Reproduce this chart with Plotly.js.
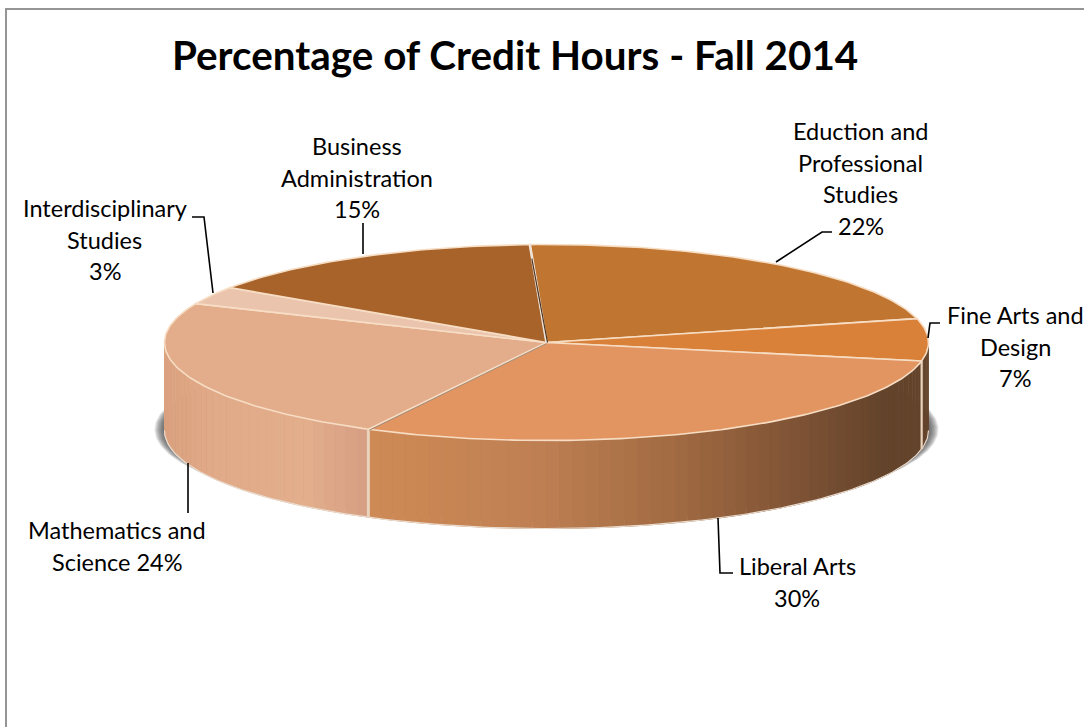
<!DOCTYPE html>
<html>
<head>
<meta charset="utf-8">
<script src="https://cdn.plot.ly/plotly-3.0.1.min.js"></script>
<style>html,body{margin:0;padding:0;background:#fff}#chart{width:1084px;height:727px}</style>
</head>
<body>
<div id="chart"></div>
<script>
// --- data ---
var categories = ["Eduction and Professional Studies","Fine Arts and Design","Liberal Arts","Mathematics and Science","Interdisciplinary Studies","Business Administration"];
var percentages = [22, 7, 30, 24, 3, 15];
var chartTitle = "Percentage of Credit Hours - Fall 2014";
var labelLines = [
  ["Eduction and","Professional","Studies","22%"],
  ["Fine Arts and","Design","7%"],
  ["Liberal Arts","30%"],
  ["Mathematics and","Science 24%"],
  ["Interdisciplinary","Studies","3%"],
  ["Business","Administration","15%"]
];

// --- styling / geometry ---
var topColors = ["#C07530","#DA8139","#E29560","#E3AC8A","#EBC4AE","#A8632A"];
var rimColor = "#F6DDC4";
var labelCenters = [[860.5,131],[1015,315],[797,566],[117,530],[104.5,208],[356.5,146]];
var lineGap = 31.6;
var leaders = [
  [[832,232],[822,232],[776,262]],
  [[940,323],[930,323],[928,338]],
  [[718,518],[720,573],[733,573]],
  [[188,463],[188,513]],
  [[192,217],[204,217],[213,293]],
  [[363,223],[363,254]]
];
var cx = 546.5, cy = 342.5, rx = 382, ry = 98, depth = 88, startDeg = -2.5;
var sideStops = {
  3:[[0,"#DBA17F"],[0.25,"#E1AA88"],[0.7,"#E3AE8C"],[1,"#D69E82"]],
  2:[[0,"#CF8A55"],[0.3,"#BF8053"],[0.55,"#A26B42"],[0.8,"#7A5033"],[0.93,"#64432B"],[1,"#64432B"]],
  1:[[0,"#64432B"],[1,"#64432B"]]
};

function px(deg){ return cx + rx*Math.sin(deg*Math.PI/180); }
function py(deg){ return cy - ry*Math.cos(deg*Math.PI/180); }
function arc(a,b){ var xs=[],ys=[],n=Math.max(2,Math.ceil(Math.abs(b-a)));
  for(var i=0;i<=n;i++){var d=a+(b-a)*i/n; xs.push(px(d)); ys.push(py(d));} return [xs,ys]; }
function hex(c){return [parseInt(c.substr(1,2),16),parseInt(c.substr(3,2),16),parseInt(c.substr(5,2),16)];}
function stopColor(stops,f){
  for(var i=1;i<stops.length;i++){ if(f<=stops[i][0]){
    var u=(f-stops[i-1][0])/((stops[i][0]-stops[i-1][0])||1),a=hex(stops[i-1][1]),b=hex(stops[i][1]);
    return "rgb("+[0,1,2].map(function(k){return Math.round(a[k]+(b[k]-a[k])*u)}).join(",")+")"; } }
  return stops[stops.length-1][1];
}

var total = percentages.reduce(function(s,v){return s+v},0);
var bounds=[startDeg];
percentages.forEach(function(v,i){ bounds.push(bounds[i]+v/total*360); });

var traces=[];
// soft shadow under the disc
[10,9,8,7,6,5,4,3,2,1].forEach(function(g){
  var n=arc(0,360);
  traces.push({type:"scatter",mode:"lines",fill:"toself",hoverinfo:"skip",showlegend:false,
    x:n[0].map(function(x){return cx+(x-cx)*(rx+g)/rx}),
    y:n[1].map(function(y){return cy+depth-1+(y-cy)*0.94}),
    line:{width:0},fillcolor:"rgba(70,70,70,0.13)"});
});
// side wall of the disc
percentages.forEach(function(v,i){
  var stops=sideStops[i]; if(!stops) return;
  var a=Math.max(bounds[i],90), b=Math.min(bounds[i+1],270);
  var step=(b-a)/Math.max(1,Math.ceil((b-a)/2));
  var xmin=Math.min(px(a),px(b)), xmax=Math.max(px(a),px(b));
  for(var d=a;d<b-1e-6;d+=step){
    var r=arc(d,d+step), fx=(px(d)+px(d+step))/2;
    var f=(fx-xmin)/(xmax-xmin);
    var col=stopColor(stops,f);
    traces.push({type:"scatter",mode:"lines",fill:"toself",hoverinfo:"skip",showlegend:false,
      x:r[0].concat(r[0].slice().reverse()),
      y:r[1].concat(r[1].slice().reverse().map(function(y){return y+depth})),
      line:{width:1,color:col},fillcolor:col});
  }
});
// pale edges of the wall
var bot=arc(90,270);
traces.push({type:"scatter",mode:"lines",hoverinfo:"skip",showlegend:false,
  x:bot[0],y:bot[1].map(function(y){return y+depth}),line:{width:1.2,color:"#E9DCCF"}});
[2,3].forEach(function(i){
  var d=bounds[i];
  traces.push({type:"scatter",mode:"lines",hoverinfo:"skip",showlegend:false,
    x:[px(d),px(d)],y:[py(d),py(d)+depth],line:{width:i==3?3:2.2,color:"#EAD3BD"}});
});
// top wedges
percentages.forEach(function(v,i){
  var r=arc(bounds[i],bounds[i+1]);
  traces.push({type:"scatter",mode:"lines",fill:"toself",name:categories[i],
    x:[cx].concat(r[0],[cx]),y:[cy].concat(r[1],[cy]),
    line:{width:1.6,color:rimColor},fillcolor:topColors[i],showlegend:false,
    text:categories[i]+": "+v+"%",hoverinfo:"text"});
});
// seams between wedges
traces.push({type:"scatter",mode:"lines",hoverinfo:"skip",showlegend:false,
  x:[cx,px(bounds[0])],y:[cy,py(bounds[0])],line:{width:2.6,color:"#EFE3D8"}});
traces.push({type:"scatter",mode:"lines",hoverinfo:"skip",showlegend:false,
  x:[cx+1,px(bounds[0])+2],y:[cy,py(bounds[0])+14],line:{width:1.2,color:"#4E3420"}});
traces.push({type:"scatter",mode:"lines",hoverinfo:"skip",showlegend:false,
  x:[cx,px(bounds[3])+1],y:[cy+1,py(bounds[3])+1],line:{width:1,color:"#A08C7C"}});
// leader lines
leaders.forEach(function(l){
  traces.push({type:"scatter",mode:"lines",hoverinfo:"skip",showlegend:false,
    x:l.map(function(p){return p[0]}),y:l.map(function(p){return p[1]}),
    line:{width:1.6,color:"#000"}});
});

var annotations=[];
labelLines.forEach(function(lines,i){
  lines.forEach(function(t,j){
    annotations.push({x:labelCenters[i][0],y:labelCenters[i][1]+j*lineGap,xref:"x",yref:"y",
      text:t,showarrow:false,xanchor:"center",yanchor:"middle",
      font:{family:"Lato, Carlito, sans-serif",size:23.5,color:"#000"}});
  });
});
annotations.push({x:515,y:54,xref:"x",yref:"y",text:"<b>"+chartTitle+"</b>",showarrow:false,
  xanchor:"center",yanchor:"middle",font:{family:"Lato, Carlito, sans-serif",size:40.4,color:"#000"}});

var layout={
  width:1084,height:727,margin:{l:0,r:0,t:0,b:0},paper_bgcolor:"#fff",plot_bgcolor:"#fff",
  showlegend:false,
  xaxis:{range:[0,1084],visible:false,fixedrange:true},
  yaxis:{range:[727,0],visible:false,fixedrange:true},
  annotations:annotations,
  shapes:[{type:"rect",xref:"x",yref:"y",x0:6,x1:1120,y0:9,y1:780,line:{color:"#959595",width:2},fillcolor:"rgba(0,0,0,0)",layer:"below"}]
};
Plotly.newPlot("chart",traces,layout,{displayModeBar:false,staticPlot:true});
</script>
</body>
</html>
